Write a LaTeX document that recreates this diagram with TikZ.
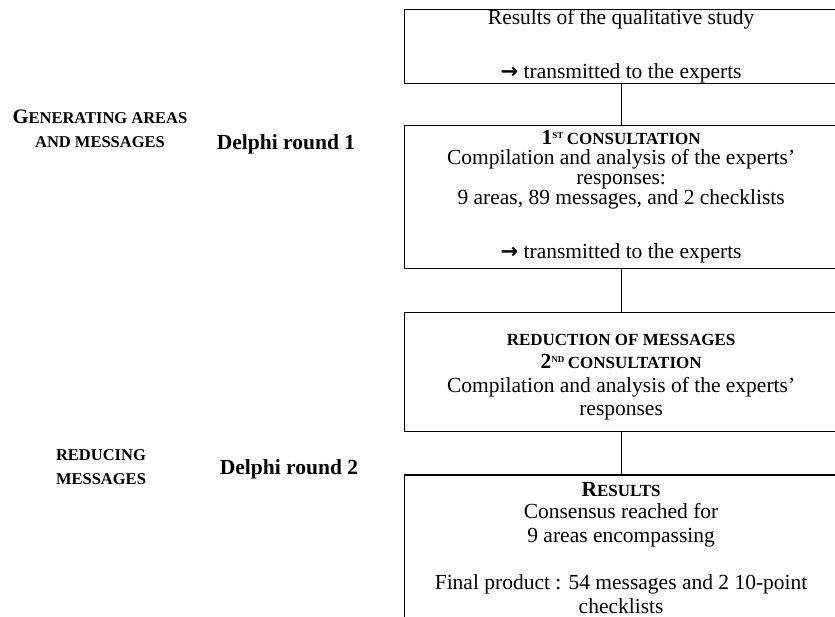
\documentclass[tikz,border=0pt]{standalone}
\usepackage{fontspec}
\setmainfont{Liberation Serif}
\newfontfamily\arrowfont{DejaVu Sans}
\usetikzlibrary{positioning}

\newcommand\bodyfont[1]{\fontsize{21.5}{#1}\selectfont}
\newcommand\fakesc[1]{{\fontsize{17}{20}\selectfont #1}}
\newcommand\supsc[1]{\raisebox{6.5pt}{\fontsize{9}{9}\selectfont #1}}
\newcommand\sendarrow{{\arrowfont\bfseries\fontsize{21}{20}\selectfont →}}

\begin{document}
\begin{tikzpicture}[x=1pt,y=-1pt,
    box/.style={draw, line width=1.2pt, minimum width=433pt, inner sep=0pt, align=center},
    lbl/.style={font=\bfseries\fontsize{16.5}{24}\selectfont, align=center},
    delphi/.style={font=\bfseries\fontsize{21.5}{24}\selectfont}]

\useasboundingbox (0,0) rectangle (835,617);

\node[box, anchor=north west, minimum height=72pt, font=\bodyfont{20}] (qual) at (404,9)
  {Results of the qualitative study\\[34pt]
   \sendarrow\ transmitted to the experts};
\node[box, below=41pt of qual, minimum height=143pt, font=\bodyfont{20}] (first)
  {\textbf{1\supsc{ST}\,\fakesc{CONSULTATION}}\\
   Compilation and analysis of the experts’\\
   responses:\\
   9 areas, 89 messages, and 2 checklists\\[34pt]
   \sendarrow\ transmitted to the experts};
\node[box, below=43pt of first, minimum height=119pt, font=\bodyfont{23.5}] (second)
  {\rule{0pt}{21pt}\textbf{\fakesc{REDUCTION OF MESSAGES}}\\
   \textbf{2\supsc{ND}\,\fakesc{CONSULTATION}}\\
   Compilation and analysis of the experts’\\
   responses};
\node[box, below=42pt of second, minimum height=146pt, font=\bodyfont{24}] (results)
  {\textbf{R\fakesc{ESULTS}}\\[-2pt]
   Consensus reached for\\
   9 areas encompassing\\[23pt]
   Final product : 54 messages and 2 10-point\\
   checklists};

\draw[line width=1.2pt] (qual.south) -- (first.north);
\draw[line width=1.2pt] (first.south) -- (second.north);
\draw[line width=1.2pt] (second.south) -- (results.north);

\node[lbl] (gen) at (100,129) {{\fontsize{20.5}{24}\selectfont G}ENERATING AREAS\\AND MESSAGES};
\node[lbl] (red) at (101,467) {REDUCING\\MESSAGES};
\node[delphi, anchor=base] (round1) at (286,150) {Delphi round 1};
\node[delphi, anchor=base] (round2) at (289,474) {Delphi round 2};
\end{tikzpicture}
\end{document}
